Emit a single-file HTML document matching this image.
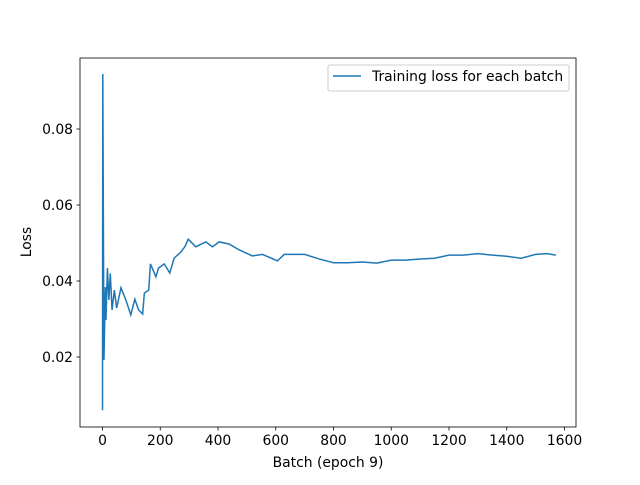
<!DOCTYPE html>
<html><head><meta charset="utf-8"><style>
body{margin:0;background:#fff;font-family:"Liberation Sans","DejaVu Sans",sans-serif;}
svg text{font-family:"DejaVu Sans","Liberation Sans",sans-serif;font-size:13.9px;fill:#000}
</style></head><body>
<svg id="chart" width="640" height="480">
<rect x="0" y="0" width="640" height="480" fill="#fff"/>
<g id="plot"></g>
<rect x="80" y="58" width="496" height="369" fill="none" stroke="#000" stroke-width="0.8"/>
<g id="xt"></g><g id="yt"></g>
<text x="328" y="467" text-anchor="middle">Batch (epoch 9)</text>
<text transform="translate(31,242) rotate(-90)" text-anchor="middle">Loss</text>
<g>
<rect x="328" y="65" width="241" height="26" fill="#fff" stroke="#ccc" rx="2"/>
<line x1="333" y1="76" x2="361" y2="76" stroke="#1f77b4" stroke-width="1.5"/>
<text x="372" y="81">Training loss for each batch</text>
</g>
</svg>
<script>
const batches=[0,1,5,10,12,17,22,27,33,41,49,64,81,98,112,125,139,145,160,166,185,194,214,233,248,271,285,297,323,358,381,404,439,473,519,554,606,629,700,750,800,850,900,950,1000,1050,1100,1150,1200,1250,1300,1350,1400,1450,1500,1540,1570];
const losses=[0.006,0.0945,0.0192,0.0384,0.0297,0.0434,0.035,0.042,0.0324,0.0376,0.0329,0.0382,0.035,0.0311,0.0352,0.0324,0.0313,0.0368,0.0376,0.0445,0.0411,0.0434,0.0445,0.0421,0.046,0.0476,0.049,0.051,0.049,0.0503,0.049,0.0503,0.0497,0.0482,0.0466,0.047,0.0453,0.047,0.047,0.0458,0.0448,0.0448,0.045,0.0447,0.0455,0.0455,0.0458,0.046,0.0468,0.0468,0.0472,0.0468,0.0465,0.046,0.047,0.0472,0.0468];
const xTicks=[0,200,400,600,800,1000,1200,1400,1600];
const yTicks=[0.02,0.04,0.06,0.08];
const NS="http://www.w3.org/2000/svg";
function xs(v){return 102.5+v*462/1600;}
function ys(v){return 281-(v-0.04)*3800;}
const plot=document.getElementById('plot');
const p=document.createElementNS(NS,'polyline');
p.setAttribute('points',batches.map((b,i)=>xs(b)+','+ys(losses[i])).join(' '));
p.setAttribute('fill','none');p.setAttribute('stroke','#1f77b4');p.setAttribute('stroke-width','1.5');


plot.appendChild(p);
const xt=document.getElementById('xt');
xTicks.forEach(t=>{const x=xs(t);
 const l=document.createElementNS(NS,'line');l.setAttribute('x1',x);l.setAttribute('x2',x);l.setAttribute('y1',427);l.setAttribute('y2',430.5);l.setAttribute('stroke','#000');l.setAttribute('stroke-width','0.8');
 
 
 xt.appendChild(l);
 const tx=document.createElementNS(NS,'text');tx.setAttribute('x',x);tx.setAttribute('y',445);tx.setAttribute('text-anchor','middle');tx.textContent=t;
 
 
 xt.appendChild(tx);});
const yt=document.getElementById('yt');
yTicks.forEach(t=>{const y=ys(t);
 const l=document.createElementNS(NS,'line');l.setAttribute('x1',76.5);l.setAttribute('x2',80);l.setAttribute('y1',y);l.setAttribute('y2',y);l.setAttribute('stroke','#000');l.setAttribute('stroke-width','0.8');
 
 
 yt.appendChild(l);
 const tx=document.createElementNS(NS,'text');tx.setAttribute('x',73);tx.setAttribute('y',y+5);tx.setAttribute('text-anchor','end');tx.textContent=t.toFixed(2);
 
 
 yt.appendChild(tx);});
</script>
</body></html>
